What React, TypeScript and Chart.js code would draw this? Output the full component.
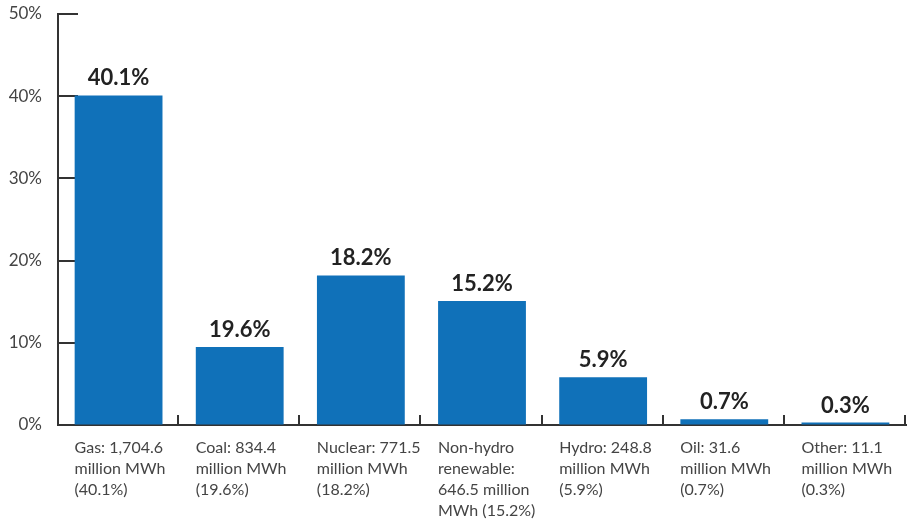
import React, { useEffect, useRef } from "react";
import { Chart, registerables } from "chart.js";

Chart.register(...registerables);

const categories: string[][] = [
  ["Gas: 1,704.6", "million MWh", "(40.1%)"],
  ["Coal: 834.4", "million MWh", "(19.6%)"],
  ["Nuclear: 771.5", "million MWh", "(18.2%)"],
  ["Non-hydro", "renewable:", "646.5 million", "MWh (15.2%)"],
  ["Hydro: 248.8", "million MWh", "(5.9%)"],
  ["Oil: 31.6", "million MWh", "(0.7%)"],
  ["Other: 11.1", "million MWh", "(0.3%)"],
];
const barValues: number[] = [40.1, 9.5, 18.2, 15.1, 5.8, 0.7, 0.3];
const barLabels: string[] = ["40.1%", "19.6%", "18.2%", "15.2%", "5.9%", "0.7%", "0.3%"];
const yTicks: number[] = [0, 10, 20, 30, 40, 50];

const FONT = "Lato, 'Open Sans', sans-serif";
const AXIS = "#333333";

const tickPlugin = {
  id: "inwardTicks",
  beforeDatasetsDraw(chart: any) {
    const { ctx, chartArea, scales } = chart;
    const x = scales.x;
    const y = scales.y;
    ctx.save();
    ctx.strokeStyle = AXIS;
    ctx.lineWidth = 2;
    yTicks.forEach((v) => {
      const py = Math.round(y.getPixelForValue(v));
      ctx.beginPath();
      ctx.moveTo(chartArea.left, py);
      ctx.lineTo(chartArea.left + 20, py);
      ctx.stroke();
    });
    const step = x.getPixelForValue(1) - x.getPixelForValue(0);
    for (let i = 0; i < categories.length; i++) {
      const px = Math.round(x.getPixelForValue(i) + step / 2) - 1;
      ctx.beginPath();
      ctx.moveTo(px, chartArea.bottom);
      ctx.lineTo(px, chartArea.bottom - 10);
      ctx.stroke();
    }
    ctx.restore();
  },
  afterDatasetsDraw(chart: any) {
    const { ctx } = chart;
    const meta = chart.getDatasetMeta(0);
    ctx.save();
    ctx.fillStyle = "#222222";
    ctx.font = `bold 22px ${FONT}`;
    ctx.textAlign = "center";
    ctx.textBaseline = "alphabetic";
    meta.data.forEach((bar: any, i: number) => {
      ctx.fillText(barLabels[i], bar.x, bar.y - 10);
    });
    ctx.restore();
  },
};

export default function App() {
  const ref = useRef<HTMLCanvasElement>(null);
  useEffect(() => {
    document.body.style.margin = "0";
    const chart = new Chart(ref.current as HTMLCanvasElement, {
      type: "bar",
      data: {
        labels: categories,
        datasets: [
          {
            data: barValues,
            backgroundColor: "#1071b9",
            borderWidth: 0,
            categoryPercentage: 1,
            barPercentage: 0.725,
          },
        ],
      },
      options: {
        animation: false,
        responsive: false,
        devicePixelRatio: 1,
        layout: { padding: { top: 14, right: 2, left: 0, bottom: 0 } },
        plugins: { legend: { display: false }, tooltip: { enabled: false } },
        scales: {
          x: {
            offset: true,
            grid: { display: true, drawOnChartArea: false, drawTicks: false },
            border: { display: true, color: AXIS, width: 2 },
            ticks: {
              align: "start",
              labelOffset: -44,
              padding: 12,
              maxRotation: 0,
              minRotation: 0,
              autoSkip: false,
              color: "#444444",
              font: { family: FONT, size: 16, lineHeight: 1.32 },
            },
            afterFit(scale: any) {
              scale.height = 97;
              scale.paddingLeft = 0;
              scale.paddingRight = 0;
            },
          },
          y: {
            min: 0,
            max: 50,
            grid: { display: true, drawOnChartArea: false, drawTicks: false },
            border: { display: true, color: AXIS, width: 2 },
            ticks: {
              stepSize: 10,
              padding: 16,
              color: "#444444",
              font: { family: FONT, size: 17 },
              callback: (v: any) => `${v}%`,
            },
            afterFit(scale: any) {
              scale.width = 58;
              scale.paddingTop = 0;
              scale.paddingBottom = 0;
            },
          },
        },
      },
      plugins: [tickPlugin],
    } as any);
    return () => chart.destroy();
  }, []);
  return (
    <div style={{ width: 908, height: 522 }}>
      <canvas ref={ref} width={908} height={522} />
    </div>
  );
}
